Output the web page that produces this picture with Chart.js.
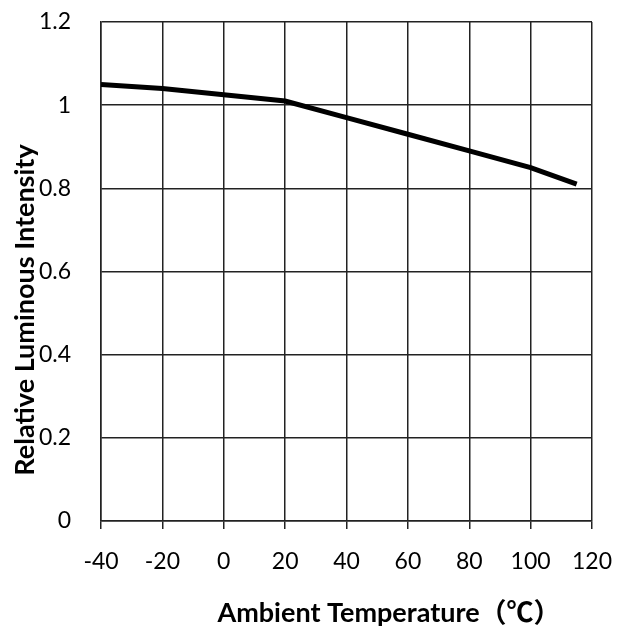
<!DOCTYPE html>
<html>
<head>
<meta charset="utf-8">
<script src="https://cdn.jsdelivr.net/npm/chart.js@4"></script>
<style>
  html, body { margin: 0; padding: 0; background: #fff; }
  #wrap { width: 634px; height: 628px; }
</style>
</head>
<body>
<div id="wrap"><canvas id="myChart" width="634" height="628"></canvas></div>
<script>
// temperature (°C) and relative luminous intensity
const temps = [-40, -20, 0, 20, 40, 60, 80, 100, 115];
const intensity = [1.05, 1.04, 1.025, 1.01, 0.97, 0.93, 0.89, 0.85, 0.81];

const xTitle = 'Ambient Temperature（℃）';
const yTitle = 'Relative Luminous Intensity';

const points = temps.map(function (t, i) { return { x: t, y: intensity[i] }; });

// axis titles sit off-centre in the original, so draw them by hand
const axisTitles = {
  id: 'axisTitles',
  afterDraw: function (chart) {
    const ctx = chart.ctx;
    const area = chart.chartArea;
    ctx.save();
    ctx.fillStyle = '#000';
    ctx.font = 'bold 27px Lato, "Noto Sans CJK SC"';
    ctx.textAlign = 'center';
    ctx.textBaseline = 'middle';
    ctx.fillText(xTitle, area.left + 288, area.bottom + 92);
    ctx.translate(25, area.top + 288);
    ctx.rotate(-Math.PI / 2);
    ctx.fillText(yTitle, 0, 0);
    ctx.restore();
  }
};

function createChart() {
  var ctx = document.getElementById('myChart').getContext('2d');
  new Chart(ctx, {
    type: 'line',
    data: {
      datasets: [{
        data: points,
        borderColor: '#000',
        borderWidth: 5,
        pointRadius: 0,
        tension: 0,
        fill: false
      }]
    },
    options: {
      responsive: false,
      animation: false,
      layout: { padding: { left: 0, right: 42, top: 22, bottom: 0 } },
      plugins: { legend: { display: false }, tooltip: { enabled: false } },
      scales: {
        x: {
          type: 'linear',
          min: -40,
          max: 120,
          afterFit: function (scale) { scale.height = 107; },
          ticks: {
            stepSize: 20,
            color: '#000',
            font: { family: 'Lato', size: 23 },
            padding: 19,
            maxRotation: 0
          },
          grid: { color: '#222', lineWidth: 1.5, tickLength: 8, drawTicks: true },
          border: { color: '#222', width: 1.5 }
        },
        y: {
          min: 0,
          max: 1.2,
          afterFit: function (scale) {
            scale.width = 101;
            scale.paddingTop = 0;
            scale.paddingBottom = 0;
          },
          ticks: {
            stepSize: 0.2,
            color: '#000',
            font: { family: 'Lato', size: 23 },
            padding: 30,
            callback: function (v) { return Math.round(v * 10) / 10; }
          },
          grid: { color: '#222', lineWidth: 1.5, drawTicks: false },
          border: { color: '#222', width: 1.5 }
        }
      }
    },
    plugins: [axisTitles]
  });
}
createChart();
</script>
</body>
</html>
